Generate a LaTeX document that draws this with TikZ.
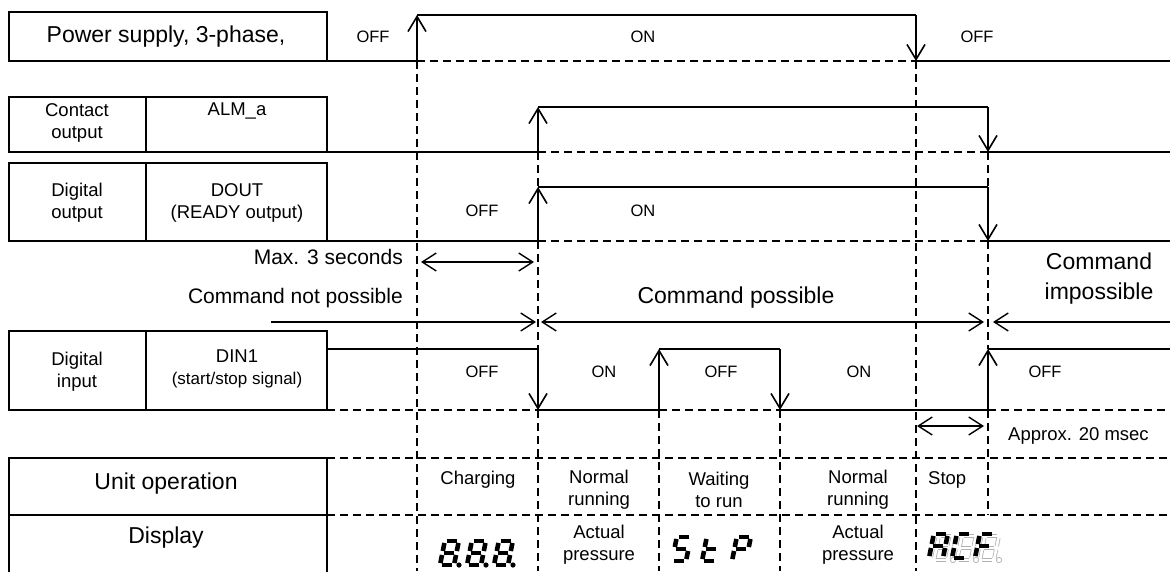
\documentclass[tikz,border=0pt]{standalone}
\usepackage{fontspec}
\setmainfont{Liberation Sans}
\usetikzlibrary{arrows.meta,positioning}

\tikzset{
  box/.style={draw,line width=2.4pt},
  sig/.style={line width=2.2pt},
  rise/.style={sig,-{Straight Barb[length=15pt,width=18pt,line width=1.6pt]}},
  guide/.style={line width=1.6pt,dash pattern=on 8pt off 5pt},
  span/.style={line width=1.4pt,{Straight Barb[length=14pt,width=18pt]}-{Straight Barb[length=14pt,width=18pt]}},
  lvl/.style={inner sep=0pt,font=\fontsize{16.5}{19}\selectfont},
  lbl/.style={inner sep=0pt,align=center,font=\fontsize{18.5}{22}\selectfont},
  mid/.style={inner sep=0pt,font=\fontsize{21}{25}\selectfont},
  big/.style={inner sep=0pt,align=center,font=\fontsize{23}{30}\selectfont},
  segbase/.style={shorten <=2pt,shorten >=2pt},
  segline/.style={segbase,line width=4.6pt},
  segoff/.style={segbase,draw=black!30,double=white,double distance=2.6pt,line width=0.8pt}
}

% one 7-segment digit, #2 = baseline left corner, #3 = lit segments
\newcommand{\segdigit}[3][segline]{%
  \begin{scope}[shift={#2},xslant=0.2]
    \coordinate (bl) at (0,0);   \coordinate (br) at (14,0);
    \coordinate (ml) at (0,-12); \coordinate (mr) at (14,-12);
    \coordinate (tl) at (0,-24); \coordinate (tr) at (14,-24);
    \foreach \p/\q in {#3} {\draw[#1] (\p) -- (\q);}
  \end{scope}}
\newcommand{\segdot}[2][fill]{\path[#1] #2 circle (2.6pt);}

\begin{document}
\begin{tikzpicture}[x=1pt,y=-1pt]
  \useasboundingbox (0,0) rectangle (1170,571);

  % signal names
  \draw[box] (9,12) rectangle (327,61);
  \node[big] (psu) at (166,37) {Power supply, 3-phase,};
  \draw[box] (9,97) rectangle (327,152);
  \draw[box] (146,97) -- (146,152);
  \node[lbl] (cont) at (77,123) {Contact\\output};
  \node[lbl] (alm) at (237,111) {ALM\_a};
  \draw[box] (9,163) rectangle (327,241);
  \draw[box] (146,163) -- (146,241);
  \node[lbl] (dout) at (77,203) {Digital\\output};
  \node[lbl] (ready) at (237,203) {DOUT\\(READY output)};
  \draw[box] (9,331) rectangle (327,410);
  \draw[box] (146,331) -- (146,410);
  \node[lbl] (din) at (77,372) {Digital\\input};
  \node[lbl] (din1) at (237,369) {DIN1\\\fontsize{17}{22}\selectfont(start/stop signal)};
  \draw[box] (9,458) rectangle (327,580);
  \draw[box] (9,515) -- (327,515);
  \node[big] (unit) at (166,484) {Unit operation};
  \node[big] (disp) at (166,538) {Display};

  % power supply
  \coordinate (p0) at (327,61);  \coordinate (p1) at (417,61);
  \coordinate (p2) at (417,15);  \coordinate (p3) at (916,15);
  \coordinate (p4) at (916,61);  \coordinate (p5) at (1170,61);
  \draw[sig] (p0) -- (p1);
  \draw[rise] (p1) -- (p2);
  \draw[sig] (p2) -- (p3);
  \draw[rise] (p3) -- (p4);
  \draw[sig] (p4) -- (p5);
  \draw[guide] (p1) -- (p4);
  \node[lvl] (poff) at (373,37) {OFF};
  \node[lvl] (pon) at (643,37) {ON};
  \node[lvl] (poff2) at (977,37) {OFF};

  % contact output
  \coordinate (c0) at (327,152); \coordinate (c1) at (538,152);
  \coordinate (c2) at (538,107); \coordinate (c3) at (988,107);
  \coordinate (c4) at (988,152); \coordinate (c5) at (1170,152);
  \draw[sig] (c0) -- (c1);
  \draw[rise] (c1) -- (c2);
  \draw[sig] (c2) -- (c3);
  \draw[rise] (c3) -- (c4);
  \draw[sig] (c4) -- (c5);
  \draw[guide] (c1) -- (c4);

  % digital output
  \coordinate (d0) at (327,241); \coordinate (d1) at (538,241);
  \coordinate (d2) at (538,187); \coordinate (d3) at (988,187);
  \coordinate (d4) at (988,241); \coordinate (d5) at (1170,241);
  \draw[sig] (d0) -- (d1);
  \draw[rise] (d1) -- (d2);
  \draw[sig] (d2) -- (d3);
  \draw[rise] (d3) -- (d4);
  \draw[sig] (d4) -- (d5);
  \draw[guide] (d1) -- (d4);
  \node[lvl] (doff) at (482,211) {OFF};
  \node[lvl] (don) at (643,211) {ON};

  % digital input
  \coordinate (i0) at (327,349); \coordinate (i1) at (538,349);
  \coordinate (i2) at (538,410); \coordinate (i3) at (659,410);
  \coordinate (i4) at (659,349); \coordinate (i5) at (780,349);
  \coordinate (i6) at (780,410); \coordinate (i7) at (988,410);
  \coordinate (i8) at (988,349); \coordinate (i9) at (1170,349);
  \coordinate (iz) at (327,410); \coordinate (ie) at (1170,410);
  \draw[sig] (i0) -- (i1);
  \draw[rise] (i1) -- (i2);
  \draw[sig] (i2) -- (i3);
  \draw[rise] (i3) -- (i4);
  \draw[sig] (i4) -- (i5);
  \draw[rise] (i5) -- (i6);
  \draw[sig] (i6) -- (i7);
  \draw[rise] (i7) -- (i8);
  \draw[sig] (i8) -- (i9);
  \draw[guide] (iz) -- (i2);
  \draw[guide] (i3) -- (i6);
  \draw[guide] (i7) -- (ie);
  \node[lvl] (ioff1) at (482,372) {OFF};
  \node[lvl] (ion1) at (604,372) {ON};
  \node[lvl] (ioff2) at (721,372) {OFF};
  \node[lvl] (ion2) at (859,372) {ON};
  \node[lvl] (ioff3) at (1045,372) {OFF};

  % time grid
  \coordinate (g1) at (417,571); \coordinate (g2) at (538,571);
  \coordinate (g3) at (659,571); \coordinate (g4) at (780,571);
  \coordinate (g5) at (916,571); \coordinate (g6) at (988,515);
  \draw[guide] (p1) -- (g1);
  \draw[guide] (c1) -- (d2);
  \draw[guide] (d1) -- (i1);
  \draw[guide] (i2) -- (g2);
  \draw[guide] (i3) -- (g3);
  \draw[guide] (i6) -- (g4);
  \draw[guide] (p4) -- (g5);
  \draw[guide] (c4) -- (d3);
  \draw[guide] (d4) -- (i8);
  \draw[guide] (i7) -- (g6);
  \coordinate (u0) at (327,458); \coordinate (u1) at (1170,458);
  \coordinate (v0) at (327,515); \coordinate (v1) at (1170,515);
  \draw[guide] (u0) -- (u1);
  \draw[guide] (v0) -- (v1);

  % timings
  \coordinate (m0) at (421,262); \coordinate (m1) at (534,262);
  \draw[span] (m0) -- (m1);
  \node[mid,anchor=east] (maxt) at (403,257) {Max. 3 seconds};
  \coordinate (k0) at (271,322); \coordinate (k1) at (536,322);
  \coordinate (k2) at (541,322); \coordinate (k3) at (984,322);
  \coordinate (k4) at (993,322); \coordinate (k5) at (1170,322);
  \draw[line width=1.4pt,-{Straight Barb[length=14pt,width=18pt]}] (k0) -- (k1);
  \draw[span] (k2) -- (k3);
  \draw[line width=1.4pt,{Straight Barb[length=14pt,width=18pt]}-] (k4) -- (k5);
  \node[mid,anchor=east] (cnp) at (403,298) {Command not possible};
  \node[big] (cp) at (736,298) {Command possible};
  \node[big] (ci) at (1099,279) {Command\\impossible};
  \coordinate (a0) at (917,426); \coordinate (a1) at (984,426);
  \draw[span] (a0) -- (a1);
  \node[lbl,anchor=west] (appr) at (1008,436) {Approx. 20 msec};

  % unit operation
  \node[lbl] (chg) at (478,480) {Charging};
  \node[lbl] (run1) at (599,490) {Normal\\running};
  \node[lbl] (wait) at (719,490) {Waiting\\to run};
  \node[lbl] (run2) at (858,490) {Normal\\running};
  \node[lbl,anchor=west] (stop) at (928,480) {Stop};
  \node[lbl] (act1) at (599,545) {Actual\\pressure};
  \node[lbl] (act2) at (858,545) {Actual\\pressure};

  % display 8.8.8.
  \foreach \dx in {440,467,494} {
    \segdigit{(\dx,565)}{tl/tr,tr/mr,mr/br,br/bl,bl/ml,ml/tl,ml/mr}
    \segdot{(\dx+19,565)}
  }
  % display StP
  \segdigit{(672,561)}{tl/tr,ml/tl,ml/mr,mr/br,br/bl}
  \segdigit{(702,561)}{ml/tl,bl/ml,br/bl,ml/mr}
  \segdigit{(732,561)}{tl/tr,tr/mr,ml/tl,bl/ml,ml/mr}
  % display ACF
  \foreach \dx in {934,957,980} {
    \segdigit[segoff]{(\dx,560)}{tl/tr,tr/mr,mr/br,br/bl,bl/ml,ml/tl,ml/mr}
    \segdot[draw=black!30,line width=0.8pt]{(\dx+19,560)}
  }
  \segdigit{(929,558)}{tl/tr,tr/mr,mr/br,bl/ml,ml/tl,ml/mr}
  \segdigit{(952,558)}{tl/tr,ml/tl,bl/ml,br/bl}
  \segdigit{(975,558)}{tl/tr,ml/tl,bl/ml,ml/mr}
\end{tikzpicture}
\end{document}
